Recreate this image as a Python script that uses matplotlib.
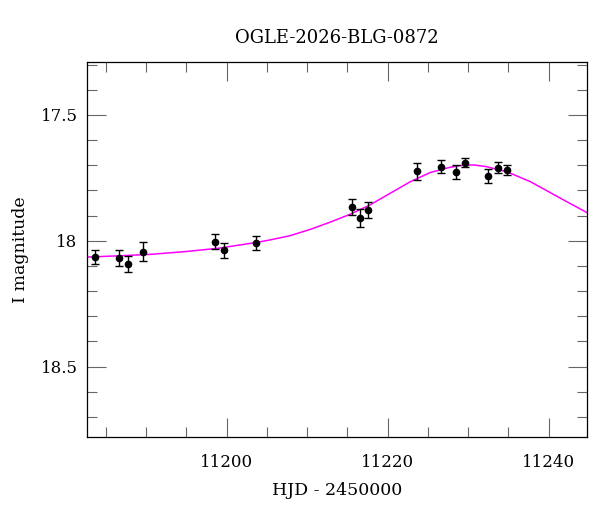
import numpy as np, matplotlib; matplotlib.use('Agg'); import matplotlib.pyplot as plt
from matplotlib.ticker import MultipleLocator, FuncFormatter

plt.rcParams['font.family'] = ['DejaVu Serif']

# photometry
hjd = [11183.6, 11186.6, 11187.7, 11189.6, 11198.6, 11199.7, 11203.7,
       11215.6, 11216.6, 11217.6, 11223.6, 11226.6, 11228.5, 11229.6,
       11232.5, 11233.7, 11234.8]
mag = [18.066, 18.069, 18.093, 18.044, 18.004, 18.038, 18.010,
       17.867, 17.911, 17.878, 17.724, 17.706, 17.726, 17.690,
       17.744, 17.710, 17.720]
err = [0.028, 0.032, 0.032, 0.038, 0.030, 0.030, 0.027,
       0.032, 0.035, 0.030, 0.033, 0.026, 0.027, 0.018,
       0.027, 0.023, 0.020]
# model curve, sampled by eye
mod_t = [11182.7, 11186.7, 11190.7, 11195.0, 11199.0, 11203.7, 11205.4,
         11207.9, 11210.4, 11212.9, 11215.35, 11217.8, 11220.3, 11222.8,
         11225.3, 11227.8, 11229.4, 11230.7, 11232.3, 11234.8, 11237.7,
         11241.85, 11244.8]
mod_m = [18.065, 18.060, 18.054, 18.043, 18.030, 18.007, 17.997,
         17.980, 17.955, 17.926, 17.895, 17.858, 17.812, 17.766,
         17.729, 17.708, 17.700, 17.699, 17.706, 17.726, 17.765,
         17.838, 17.889]

fig = plt.figure(figsize=(6, 5.12), dpi=100)
ax = fig.add_axes([0.1455, 0.1465, 0.8333, 0.7324])
ax.plot(mod_t, mod_m, color='#ff00ff', lw=1.1, zorder=2)
ax.errorbar(hjd, mag, yerr=err, fmt='o', color='black', ms=4.5, elinewidth=1.0,
            capsize=3.2, capthick=1.0, zorder=3)
ax.set_xlim(11182.7, 11244.8)
ax.set_ylim(18.78, 17.29)
ax.xaxis.set_major_locator(MultipleLocator(20)); ax.xaxis.set_minor_locator(MultipleLocator(5))
ax.yaxis.set_major_locator(MultipleLocator(0.5)); ax.yaxis.set_minor_locator(MultipleLocator(0.1))
ax.yaxis.set_major_formatter(FuncFormatter(lambda v, p: f"{v:g}"))
ax.tick_params(which='both', direction='in', top=True, right=True, color='0.4', width=0.8, labelsize=12)
ax.tick_params(which='major', length=13.7)
ax.tick_params(which='minor', length=7.2)
ax.tick_params(axis='x', pad=12); ax.tick_params(axis='y', pad=7)
for s in ax.spines.values(): s.set_linewidth(0.9)
ax.set_title("OGLE-2026-BLG-0872", fontsize=13, pad=14)
ax.set_xlabel("HJD - 2450000", fontsize=12.5, labelpad=8)
ax.set_ylabel("I magnitude", fontsize=12.5, labelpad=8)
fig.savefig("out.png", dpi=100)
